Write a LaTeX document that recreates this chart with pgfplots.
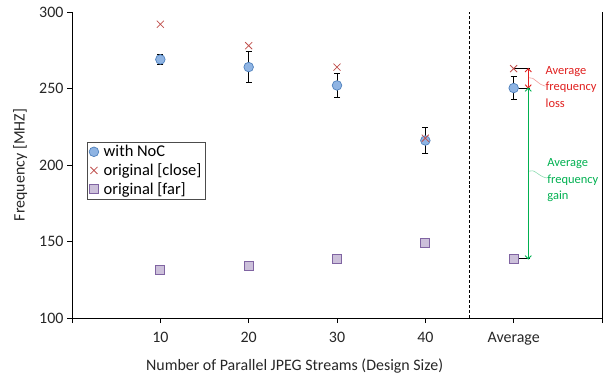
\documentclass[border=0pt]{standalone}
\usepackage{pgfplots}
\pgfplotsset{compat=1.18}
\usepackage{fontspec}
\setmainfont{Carlito}
\definecolor{noc}{HTML}{8FB4E3}
\definecolor{nocedge}{HTML}{4F81BD}
\definecolor{closec}{HTML}{C0504D}
\definecolor{farc}{HTML}{CCC0DA}
\definecolor{faredge}{HTML}{8064A2}
\definecolor{lossc}{HTML}{E0201F}
\definecolor{gainc}{HTML}{00B050}
\begin{document}
\begin{tikzpicture}
\useasboundingbox (0,0) rectangle (608bp,379bp);
\begin{axis}[
  at={(72bp,61bp)}, anchor=south west,
  scale only axis, width=530bp, height=306bp,
  xmin=0, xmax=6, ymin=100, ymax=300,
  axis x line*=bottom, axis y line*=left,
  axis line style={black, line width=0.9bp, -},
  xtick={1,2,3,4,5}, xticklabels={10,20,30,40,Average},
  extra x ticks={0,6}, extra x tick labels={},
  ytick={100,150,200,250,300},
  tick align=outside, major tick length=5bp,
  tick style={black, line width=0.8bp},
  every tick label/.append style={font=\fontsize{16}{18}\selectfont, text=black!85},
  xticklabel style={yshift=-6bp},
  /pgf/number format/assume math mode=true,
  xlabel={Number of Parallel JPEG Streams (Design Size)},
  ylabel={Frequency [MHZ]},
  label style={font=\fontsize{16}{18}\selectfont, text=black!85},
  xlabel style={at={(axis description cs:0.42,-0.157)}, anchor=center},
  ylabel style={at={(axis description cs:-0.098,0.5)}, anchor=center},
  legend style={at={(0.028,0.575)}, anchor=north west, draw=black!70, line width=0.6bp,
    font=\fontsize{16.5}{18}\selectfont, inner xsep=2bp, inner ysep=1bp, row sep=1.5bp, column sep=3bp},
  legend cell align=left,
  clip=false,
]
\draw[black, line width=0.9bp] (rel axis cs:1,0) -- (rel axis cs:1,1);
\draw[black, densely dashed, line width=0.7bp] (axis cs:4.5,100) -- (axis cs:4.5,300);
\addplot[only marks, mark=*, mark size=4.8bp, mark options={fill=noc, draw=nocedge, line width=0.7bp},
  error bars/.cd, y dir=both, y explicit,
  error bar style={black, line width=1bp},
  error mark options={black, mark size=3bp, line width=1bp, rotate=90}]
  table[y error=e] {
x y e
1 269 3.5
2 264 10
3 252 8
4 216 8.5
5 250.3 7.5
};
\addlegendentry{with NoC}
\addplot[only marks, mark=x, mark size=5bp, mark options={draw=closec, line width=0.8bp}]
  table {
x y
1 292
2 278
3 264
4 217.5
5 263
};
\addlegendentry{original [close]}
\addplot[only marks, mark=square*, mark size=4.5bp, mark options={fill=farc, draw=faredge, line width=0.8bp}]
  table {
x y
1 131.6
2 134
3 138.6
4 149.2
5 138.6
};
\addlegendentry{original [far]}
% annotation lines
\draw[black, line width=0.9bp] (axis cs:5,263) -- (axis cs:5.18,263);
\draw[black, line width=0.9bp] (axis cs:5,250.3) -- (axis cs:5.18,250.3);
\draw[black, line width=0.9bp] (axis cs:5,138.6) -- (axis cs:5.18,138.6);
\draw[lossc, line width=1.1bp] (axis cs:5.165,262.6) -- (axis cs:5.165,250.7);
\draw[gainc, line width=1.1bp] (axis cs:5.165,249.9) -- (axis cs:5.165,139);
\draw[lossc, line width=0.9bp] (axis cs:5.13,260.8) -- (axis cs:5.165,263) -- (axis cs:5.2,260.8);
\draw[lossc, line width=0.9bp] (axis cs:5.13,252.5) -- (axis cs:5.165,250.3) -- (axis cs:5.2,252.5);
\draw[gainc, line width=0.9bp] (axis cs:5.13,248.1) -- (axis cs:5.165,250.3) -- (axis cs:5.2,248.1);
\draw[gainc, line width=0.9bp] (axis cs:5.13,140.8) -- (axis cs:5.165,138.6) -- (axis cs:5.2,140.8);
\draw[lossc!45, line width=0.6bp] (axis cs:5.175,257) .. controls (axis cs:5.23,258) and (axis cs:5.28,252) .. (axis cs:5.36,251.5);
\draw[gainc!45, line width=0.6bp] (axis cs:5.175,196) .. controls (axis cs:5.23,198) and (axis cs:5.29,192) .. (axis cs:5.38,191.5);
\node[anchor=west, align=left, text=lossc, inner sep=0pt, font=\fontsize{12.5}{16.5}\selectfont] at (axis cs:5.36,251) {Average\\frequency\\loss};
\node[anchor=west, align=left, text=gainc, inner sep=0pt, font=\fontsize{12.5}{16.5}\selectfont] at (axis cs:5.38,190) {Average\\frequency\\gain};
\end{axis}
\end{tikzpicture}
\end{document}
